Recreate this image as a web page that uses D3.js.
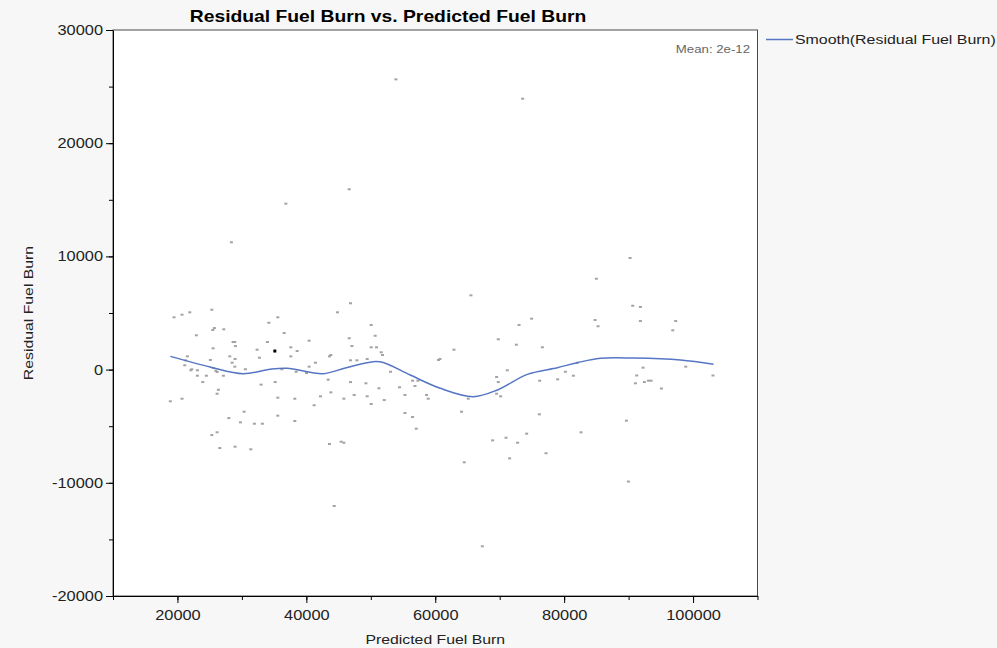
<!DOCTYPE html>
<html>
<head>
<meta charset="utf-8">
<script src="https://cdn.jsdelivr.net/npm/d3@7"></script>
<style>
  html, body { margin: 0; padding: 0; background: #f7f7f7; }
  svg { display: block; font-family: "Liberation Sans", Arial, sans-serif; }
</style>
</head>
<body>
<svg id="chart"></svg>
<script>
// residual vs predicted fuel burn, one entry per flight
const predicted = [
  19470, 20710, 21910, 25330, 34180, 35570, 25730, 25480, 27190, 22930,
  28630, 28890, 28990, 33960, 25530, 32360, 21540, 28120, 32720, 28940,
  25110, 21290, 28480, 21130, 28900, 25570, 30540, 22220, 22070, 23090,
  25950, 26150, 23090, 24490, 27130, 23930, 35160, 32980, 26350, 26150,
  35570, 18900, 20710, 30340, 27970, 29770, 31940, 33180, 35570, 26150,
  25330, 26570, 28940, 31380, 46850, 44830, 36550, 50060, 50680, 46650,
  40430, 37590, 38570, 37590, 47070, 50060, 50890, 51610, 51820, 43800,
  43590, 46850, 47840, 49440, 41410, 40430, 36200, 38420, 40020, 60510,
  60730, 53060, 43390, 46850, 49240, 56480, 57310, 51260, 54460, 56850,
  43800, 42190, 45820, 47420, 49440, 38210, 52080, 58650, 58910, 55300,
  41210, 50060, 38210, 55300, 56480, 57050, 43590, 45400, 45820, 65540,
  74950, 73000, 84800, 85260, 69780, 72580, 76620, 62900, 71180, 69520,
  69780, 76200, 78990, 80190, 81430, 82050, 69520, 70140, 65120, 64080,
  76150, 68900, 70980, 72780, 74180, 82620, 77190, 64500, 71540, 90230,
  85000, 90640, 91830, 91830, 97310, 96850, 92250, 98870, 91260, 103090,
  91060, 92450, 93080, 93490, 95090, 89660, 89970, 53900, 73560, 46650,
  36820, 28370, 44320, 67300
];
const residual = [
  4620, 4850, 5060, 5290, 4140, 4620, 3670, 3500, 3560, 3030,
  2440, 2440, 2080, 2440, 1880, 1760, 1170, 1170, 1050, 940,
  850, 820, 610, 380, 260, 140, 30, 30, -60, -60,
  -100, -210, -540, -540, -540, -1100, -1100, -1330, -1780, -2130,
  -2480, -2800, -2570, -3720, -4280, -4660, -4780, -4780, -4070, -5540,
  -5780, -6930, -6810, -7040, 5860, 5060, 3230, 3940, 2990, 2770,
  2550, 1970, 1640, 1170, 2080, 1970, 1970, 1530, 1290, 1290,
  1170, 820, 820, 940, 610, 260, 30, -190, -300, 850,
  940, -190, -890, -1100, -1210, -980, -980, -1650, -1560, -1450,
  -2010, -2360, -2570, -2240, -2360, -2570, -2690, -2240, -2570, -2240,
  -3150, -3040, -4540, -3830, -4190, -5220, -6570, -6370, -6460, 6560,
  4500, 3940, 4380, 3830, 2680, 2200, 1970, 1760, -60, -650,
  -1100, -980, -860, -190, -540, 610, -2130, -2360, -2570, -3720,
  -3950, -6250, -6020, -6460, -5660, -5540, -7390, -8190, -7840, 9860,
  8030, 5640, 5530, 4290, 4290, 3470, 170, 260, -520, -520,
  -1210, -1100, -980, -980, -1670, -4510, -9890, 25640, 23930, 15930,
  14660, 11250, -12050, -15610
];
// the one selected row, drawn in black
const selectedX = [35110];
const selectedY = [1640];

// smoother fitted through the residuals
const smoothX = [18900, 25060, 30190, 34380, 37020, 42610, 46030, 50370, 51930, 56120,
                 60780, 65900, 69630, 74290, 78940, 82050, 85620, 90750, 98040, 103170];
const smoothY = [1170, 230, -360, 30, 110, -360, 140, 700, 630, -480,
                 -1650, -2390, -1800, -420, 170, 610, 1000, 1020, 850, 470];

const xTicks = [20000, 40000, 60000, 80000, 100000];
const yTicks = [-20000, -10000, 0, 10000, 20000, 30000];
const xMinorTicks = d3.range(10000, 110001, 10000);
const yMinorTicks = d3.range(-20000, 30001, 5000);

const title = 'Residual Fuel Burn vs. Predicted Fuel Burn';
const xTitle = 'Predicted Fuel Burn';
const yTitle = 'Residual Fuel Burn';
const legendLabel = 'Smooth(Residual Fuel Burn)';
const meanLabel = 'Mean: 2e-12';

const width = 997, height = 648;
const plot = { left: 113, right: 757.5, top: 30, bottom: 596 };
const SX = 1.17; // text in the reference is a little wide
const lineColor = '#5676c4';

const svg = d3.select('#chart').attr('width', width).attr('height', height);

const x = d3.scaleLinear().domain([10000, 110000]).range([plot.left, plot.right]);
const y = d3.scaleLinear().domain([-20000, 30000]).range([plot.bottom, plot.top]);

function wideText(sel, tx, ty, size) {
  return sel.attr('transform', `translate(${tx},${ty}) scale(${SX},1)`)
    .style('font-size', size + 'px');
}

svg.append('rect')
  .attr('x', plot.left).attr('y', plot.top)
  .attr('width', plot.right - plot.left).attr('height', plot.bottom - plot.top)
  .attr('fill', '#fff').attr('stroke', '#4a4a4a');

// points
const g = svg.append('g');
g.selectAll('rect.pt')
  .data(predicted.map((p, i) => [p, residual[i]]))
  .join('rect')
  .attr('class', 'pt')
  .attr('x', d => x(d[0]) - 1.5)
  .attr('y', d => y(d[1]) - 1)
  .attr('width', 3).attr('height', 2)
  .attr('fill', '#a3a3a3');

g.selectAll('rect.sel')
  .data(selectedX.map((p, i) => [p, selectedY[i]]))
  .join('rect')
  .attr('class', 'sel')
  .attr('x', d => x(d[0]) - 1.5)
  .attr('y', d => y(d[1]) - 1.5)
  .attr('width', 3).attr('height', 3)
  .attr('fill', '#000');

const line = d3.line()
  .x(d => x(d[0]))
  .y(d => y(d[1]))
  .curve(d3.curveCatmullRom.alpha(0.5));

g.append('path')
  .datum(smoothX.map((p, i) => [p, smoothY[i]]))
  .attr('d', line)
  .attr('fill', 'none')
  .attr('stroke', lineColor)
  .attr('stroke-width', 1.5);

// axes: short minor ticks, then longer labelled ticks
const yAxisG = svg.append('g').attr('transform', `translate(${plot.left},0)`);
yAxisG.append('g').call(d3.axisLeft(y).tickValues(yMinorTicks).tickSize(4).tickSizeOuter(0).tickFormat(''))
  .select('.domain').remove();
yAxisG.append('g').call(d3.axisLeft(y).tickValues(yTicks).tickSize(7).tickSizeOuter(0)
  .tickPadding(3).tickFormat(d => String(d)));

const xAxisG = svg.append('g').attr('transform', `translate(0,${plot.bottom})`);
xAxisG.append('g').call(d3.axisBottom(x).tickValues(xMinorTicks).tickSize(4).tickSizeOuter(0).tickFormat(''))
  .select('.domain').remove();
xAxisG.append('g').call(d3.axisBottom(x).tickValues(xTicks).tickSize(7).tickSizeOuter(0)
  .tickPadding(7).tickFormat(d => String(d)));

svg.selectAll('.tick line, .domain').attr('stroke', '#000');
yAxisG.selectAll('.tick text')
  .attr('x', -10 / SX)
  .attr('transform', `scale(${SX},1)`)
  .attr('fill', '#222').style('font-size', '14px').style('font-family', null);
xAxisG.selectAll('.tick text')
  .attr('transform', `scale(${SX},1)`)
  .attr('fill', '#222').style('font-size', '14px').style('font-family', null);
svg.selectAll('.tick text').attr('font-family', null).attr('font-size', null);

// titles
wideText(svg.append('text'), 388, 22, 16.5)
  .attr('text-anchor', 'middle').attr('font-weight', 'bold').attr('fill', '#000').text(title);

wideText(svg.append('text'), (plot.left + plot.right) / 2, 644, 13.5)
  .attr('text-anchor', 'middle').attr('fill', '#222').text(xTitle);

svg.append('text')
  .attr('transform', `translate(33,${(plot.top + plot.bottom) / 2}) rotate(-90) scale(${SX},1)`)
  .style('font-size', '13.5px')
  .attr('text-anchor', 'middle').attr('fill', '#222').text(yTitle);

wideText(svg.append('text'), 750, 53, 11.3)
  .attr('text-anchor', 'end').attr('fill', '#666').text(meanLabel);

// legend
svg.append('line')
  .attr('x1', 766).attr('x2', 793).attr('y1', 39.5).attr('y2', 39.5)
  .attr('stroke', lineColor).attr('stroke-width', 1.5);
wideText(svg.append('text'), 795, 44, 13.6)
  .attr('fill', '#222').text(legendLabel);
</script>
</body>
</html>
